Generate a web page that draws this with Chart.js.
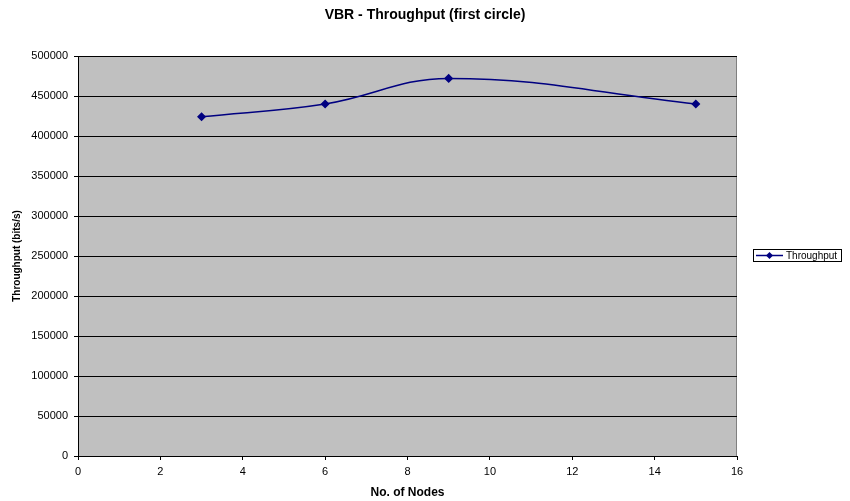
<!DOCTYPE html>
<html>
<head>
<meta charset="utf-8">
<script src="https://cdn.jsdelivr.net/npm/chart.js@4/dist/chart.umd.min.js"></script>
<style>
  html, body { margin: 0; padding: 0; background: #fff; }
  #wrap { width: 850px; height: 501px; }
</style>
</head>
<body>
<div id="wrap"><canvas id="mycanvas" width="850" height="501"></canvas></div>
<script>
// data
var nodes = [3, 6, 9, 15];
var throughput = [424000, 440000, 472000, 440000];
var yTicks = [0, 50000, 100000, 150000, 200000, 250000, 300000, 350000, 400000, 450000, 500000];
var xTicks = [0, 2, 4, 6, 8, 10, 12, 14, 16];

var points = [];
for (var i in nodes) {
    points.push({x: nodes[i], y: throughput[i]});
}

var FONT = 'Arial, "Liberation Sans", sans-serif';

// grey plot area with a border, like the old spreadsheet charts
var plotBg = {
    id: 'plotBg',
    beforeDraw: function(chart) {
        var a = chart.chartArea, c = chart.ctx;
        c.save();
        c.fillStyle = '#c0c0c0';
        c.fillRect(a.left, a.top, a.right - a.left, a.bottom - a.top);
        c.strokeStyle = '#808080';
        c.lineWidth = 1;
        c.strokeRect(a.left + 0.5, a.top + 0.5, a.right - a.left - 1, a.bottom - a.top);
        c.restore();
    }
};

// boxed legend on the right
var boxLegend = {
    id: 'boxLegend',
    afterDraw: function(chart) {
        var c = chart.ctx;
        var ds = chart.data.datasets[0];
        c.save();
        c.fillStyle = '#fff';
        c.fillRect(753, 249, 89, 13);
        c.strokeStyle = '#000';
        c.lineWidth = 1;
        c.strokeRect(753.5, 249.5, 88, 12);
        c.strokeStyle = ds.borderColor;
        c.lineWidth = 1.5;
        c.beginPath();
        c.moveTo(756, 255.5);
        c.lineTo(783, 255.5);
        c.stroke();
        c.fillStyle = ds.borderColor;
        c.beginPath();
        c.moveTo(769.5, 252);
        c.lineTo(773, 255.5);
        c.lineTo(769.5, 259);
        c.lineTo(766, 255.5);
        c.closePath();
        c.fill();
        c.fillStyle = '#000';
        c.font = '10px ' + FONT;
        c.textBaseline = 'middle';
        c.fillText(ds.label, 786, 256);
        c.restore();
    }
};

var ctx = document.getElementById('mycanvas');

var chart = new Chart(ctx, {
    type: 'line',
    data: {
        datasets: [{
            label: 'Throughput',
            data: points,
            borderColor: '#000080',
            backgroundColor: '#000080',
            borderWidth: 1.5,
            tension: 0.4,
            pointStyle: 'rectRot',
            pointRadius: 3.5,
            pointHoverRadius: 3.5,
            fill: false
        }]
    },
    options: {
        responsive: false,
        animation: false,
        devicePixelRatio: 1,
        plugins: {
            legend: { display: false },
            tooltip: { enabled: false },
            title: {
                display: true,
                text: 'VBR - Throughput (first circle)',
                color: '#000',
                font: { family: FONT, size: 14, weight: 'bold' },
                padding: { top: 7, bottom: 32.2 }
            }
        },
        scales: {
            x: {
                type: 'linear',
                min: xTicks[0],
                max: xTicks[xTicks.length - 1],
                afterBuildTicks: function(s) { s.ticks = xTicks.map(function(v) { return {value: v}; }); },
                afterFit: function(s) { s.height = 45; },
                grid: { drawOnChartArea: false, color: '#000', tickLength: 4 },
                border: { color: '#000', width: 1 },
                ticks: { color: '#000', font: { family: FONT, size: 11 }, padding: 5, maxRotation: 0 },
                title: {
                    display: true,
                    text: 'No. of Nodes',
                    color: '#000',
                    font: { family: FONT, size: 12, weight: 'bold' },
                    padding: { top: 0, bottom: 1 }
                }
            },
            y: {
                min: yTicks[0],
                max: yTicks[yTicks.length - 1],
                afterBuildTicks: function(s) { s.ticks = yTicks.map(function(v) { return {value: v}; }); },
                afterFit: function(s) { s.width = 78; },
                grid: { color: '#000', tickLength: 4 },
                border: { color: '#000', width: 1 },
                ticks: {
                    color: '#000',
                    font: { family: FONT, size: 11 },
                    padding: 6,
                    callback: function(v) { return String(v); }
                },
                title: {
                    display: true,
                    text: 'Throughput (bits/s)',
                    color: '#000',
                    font: { family: FONT, size: 10, weight: 'bold' },
                    padding: { top: 11, bottom: 0 }
                }
            },
            // empty axis that only keeps room for the legend on the right
            yRight: {
                position: 'right',
                display: true,
                min: 0,
                max: 1,
                afterFit: function(s) { s.width = 113; },
                grid: { display: false },
                border: { display: false },
                ticks: { display: false }
            }
        }
    },
    plugins: [plotBg, boxLegend]
});
</script>
</body>
</html>
